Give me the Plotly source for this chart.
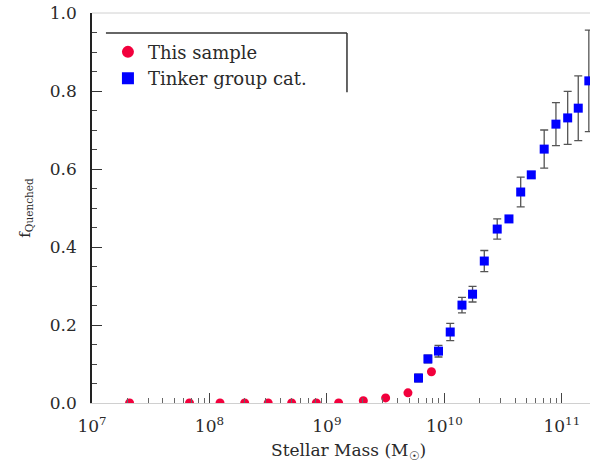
import math
import plotly.graph_objects as go

# ---- data (log10 stellar mass, quenched fraction) ----
sample_logm = [7.32, 7.83, 8.09, 8.30, 8.50, 8.70, 8.91, 9.10, 9.31, 9.50, 9.69, 9.89]
sample_fq = [0.0, 0.0, 0.0, 0.0, 0.0, 0.0, 0.0, 0.0, 0.006, 0.013, 0.026, 0.08]

tinker_logm = [9.78, 9.86, 9.95, 10.05, 10.15, 10.24, 10.34, 10.45, 10.55, 10.65,
               10.74, 10.85, 10.95, 11.05, 11.14, 11.23]
tinker_fq = [0.064, 0.113, 0.133, 0.182, 0.251, 0.279, 0.364, 0.446, 0.472, 0.541,
             0.585, 0.651, 0.715, 0.731, 0.756, 0.826]
tinker_err = [0.01, 0.01, 0.015, 0.022, 0.02, 0.02, 0.027, 0.026, 0.008, 0.038,
              0.008, 0.049, 0.055, 0.068, 0.083, 0.13]

x_tick_exp = [7, 8, 9, 10, 11]
legend_names = ["This sample", "Tinker group cat."]

FONT = "DejaVu Serif"
TXT = "#2a2a2a"

fig = go.Figure()
fig.add_trace(go.Scatter(
    x=[10 ** v for v in sample_logm], y=sample_fq, mode="markers",
    name=legend_names[0], cliponaxis=True,
    marker=dict(symbol="circle", size=9, color="#f2003c"),
))
fig.add_trace(go.Scatter(
    x=[10 ** v for v in tinker_logm], y=tinker_fq, mode="markers",
    name=legend_names[1],
    marker=dict(symbol="square", size=9, color="#0000ff"),
    error_y=dict(type="data", array=tinker_err, color="#555555", thickness=1.3, width=4),
))

minor_vals = [k * 10 ** e for e in range(7, 12) for k in range(2, 10)]
x_range = [7, 11.24]

fig.update_layout(
    width=590, height=466,
    margin=dict(l=92, r=0, t=13, b=63, autoexpand=False),
    paper_bgcolor="white", plot_bgcolor="white",
    font=dict(family=FONT, color=TXT, size=17),
    showlegend=True,
    legend=dict(x=0.032, y=0.947, xanchor="left", yanchor="top",
                bgcolor="rgba(0,0,0,0)", font=dict(family=FONT, size=18, color=TXT),
                tracegroupgap=0, itemsizing="constant"),
    xaxis=dict(
        type="log", range=x_range, automargin=False,
        tickvals=[10 ** e for e in x_tick_exp],
        ticktext=["10<sup>%d</sup>" % e for e in x_tick_exp],
        ticks="inside", ticklen=10, tickwidth=1.2, tickcolor="#444",
        minor=dict(tickvals=minor_vals, ticks="inside", ticklen=5, tickcolor="#666", tickwidth=1),
        showgrid=False, zeroline=False,
        showline=True, linecolor="#d0d0d0", linewidth=1,
        tickfont=dict(family=FONT, size=17, color=TXT),
        ticklabelstandoff=8,
    ),
    yaxis=dict(
        range=[0, 1.0], dtick=0.2, tickformat=".1f", automargin=False,
        ticks="inside", ticklen=10, tickwidth=1.2, tickcolor="#333",
        minor=dict(dtick=0.05, ticks="inside", ticklen=5, tickcolor="#444", tickwidth=1),
        showgrid=False, zeroline=False,
        showline=True, linecolor="#222", linewidth=1.5, mirror=False,
        tickfont=dict(family=FONT, size=17, color=TXT),
        ticklabelstandoff=10,
    ),
)

# faint top frame line with mirrored ticks (shape x on a log axis is given in log10 units)
fig.add_shape(type="line", xref="paper", yref="paper", x0=0, x1=1, y0=1, y1=1,
              line=dict(color="#d0d0d0", width=1))
for e in x_tick_exp:
    fig.add_shape(type="line", xref="x", yref="paper", x0=e, x1=e, y0=1, y1=1 - 10 / 390,
                  line=dict(color="#555", width=1.2))
for v in minor_vals:
    lv = math.log10(v)
    fig.add_shape(type="line", xref="x", yref="paper", x0=lv, x1=lv, y0=1, y1=1 - 5 / 390,
                  line=dict(color="#777", width=1))

# legend frame: top and right edges only
fig.add_shape(type="line", xref="paper", yref="paper", x0=0.028, x1=0.512, y0=0.9487, y1=0.9487,
              line=dict(color="#333", width=1.5))
fig.add_shape(type="line", xref="paper", yref="paper", x0=0.512, x1=0.512, y0=0.9487, y1=0.797,
              line=dict(color="#333", width=1.5))

# axis titles
fig.add_annotation(text="Stellar Mass (M<sub>☉</sub>)", xref="paper", yref="paper",
                   x=0.516, y=-0.09, xanchor="center", yanchor="top", showarrow=False,
                   font=dict(family=FONT, size=17, color=TXT))
fig.add_annotation(text="f<sub>Quenched</sub>", xref="paper", yref="paper",
                   x=-0.135, y=0.5, xanchor="center", yanchor="middle", textangle=-90,
                   showarrow=False, font=dict(family=FONT, size=15, color=TXT))

fig.write_html("out.html", config={"displayModeBar": False},
               post_script="document.body.style.margin='0';")
